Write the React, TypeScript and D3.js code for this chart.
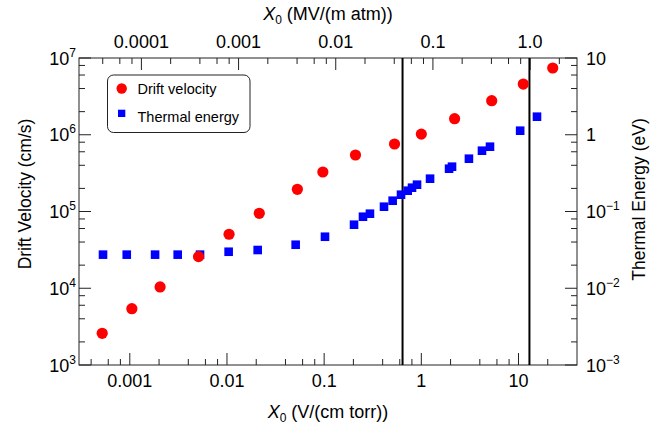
import React from "react";
import * as d3 from "d3";

// ---- data ----
const driftX = [0.00052, 0.00105, 0.00205, 0.0051, 0.0105, 0.0215, 0.053, 0.097, 0.21, 0.53, 1.0, 2.2, 5.3, 11.2, 22.5];
const driftV = [2590, 5420, 10400, 25800, 50500, 94700, 194600, 327000, 545000, 758000, 1020000, 1620000, 2780000, 4580000, 7410000];

const thermX = [0.00053, 0.00093, 0.00182, 0.00311, 0.00528, 0.0104, 0.0207, 0.0509, 0.102, 0.203, 0.251, 0.296, 0.413, 0.507, 0.618, 0.724, 0.802, 0.903, 1.23, 1.93, 2.07, 3.09, 4.21, 5.09, 10.4, 15.5];
const thermE = [0.0274, 0.0274, 0.0274, 0.0274, 0.0274, 0.0299, 0.0315, 0.0369, 0.0469, 0.0673, 0.0855, 0.0936, 0.1155, 0.1382, 0.1655, 0.1866, 0.2042, 0.2235, 0.2676, 0.361, 0.3835, 0.4875, 0.6198, 0.6986, 1.129, 1.719];

// vertical markers, in MV/(m atm) (top axis)
const markerTop = [0.0487, 0.985];

const conv = 0.076; // 1 V/(cm torr) = 0.076 MV/(m atm)

const bottomMajor = [0.001, 0.01, 0.1, 1, 10];
const bottomLabels = ["0.001", "0.01", "0.1", "1", "10"];
const topMajor = [0.0001, 0.001, 0.01, 0.1, 1];
const topLabels = ["0.0001", "0.001", "0.01", "0.1", "1.0"];
const leftMajor = [1e3, 1e4, 1e5, 1e6, 1e7];
const leftExp = ["3", "4", "5", "6", "7"];
const rightMajor = [1e-3, 1e-2, 1e-1, 1, 10];
const rightBase = ["10", "10", "10", "1", "10"];
const rightExp = ["\u22123", "\u22122", "\u22121", "", ""];
const minorMult = [2, 4, 6, 8];

const L = 79, R = 577, T = 58, B = 365;
const FONT = "'Liberation Sans', Arial, Helvetica, sans-serif";

function minorTicks(domain: [number, number]) {
  const out: number[] = [];
  const lo = Math.floor(Math.log10(domain[0]));
  const hi = Math.ceil(Math.log10(domain[1]));
  for (let e = lo; e <= hi; e++) {
    for (const m of minorMult) {
      const v = m * Math.pow(10, e);
      if (v > domain[0] * 1.001 && v < domain[1] * 0.999) out.push(v);
    }
  }
  return out;
}

export default function App() {
  const xDom: [number, number] = [3e-4, 40];
  const x = d3.scaleLog().domain(xDom).range([L, R]);
  const xTopDom: [number, number] = [xDom[0] * conv, xDom[1] * conv];
  const xTop = d3.scaleLog().domain(xTopDom).range([L, R]);
  const yL = d3.scaleLog().domain([1e3, 1e7]).range([B, T]);
  const yR = d3.scaleLog().domain([1e-3, 10]).range([B, T]);

  const MAJ = 12, MIN = 6;
  const stroke = "#222";

  return (
    <svg width={672} height={431} style={{ position: "absolute", left: 0, top: 0, background: "#fff" }} fontFamily={FONT}>
      {/* frame */}
      <rect x={L} y={T} width={R - L} height={B - T} fill="none" stroke={stroke} strokeWidth={1} />

      {/* bottom ticks */}
      {bottomMajor.map((v, i) => (
        <g key={"bm" + i}>
          <line x1={x(v)} x2={x(v)} y1={B} y2={B - MAJ} stroke={stroke} />
          <text x={x(v)} y={387} fontSize={18} textAnchor="middle" fill="#000">{bottomLabels[i]}</text>
        </g>
      ))}
      {minorTicks(xDom).map((v, i) => (
        <line key={"bn" + i} x1={x(v)} x2={x(v)} y1={B} y2={B - MIN} stroke={stroke} />
      ))}

      {/* top ticks */}
      {topMajor.map((v, i) => (
        <g key={"tm" + i}>
          <line x1={xTop(v)} x2={xTop(v)} y1={T} y2={T + MAJ} stroke={stroke} />
          <text x={xTop(v)} y={48} fontSize={18} textAnchor="middle" fill="#000">{topLabels[i]}</text>
        </g>
      ))}
      {minorTicks(xTopDom).map((v, i) => (
        <line key={"tn" + i} x1={xTop(v)} x2={xTop(v)} y1={T} y2={T + MIN} stroke={stroke} />
      ))}

      {/* left ticks */}
      {leftMajor.map((v, i) => (
        <g key={"lm" + i}>
          <line x1={L} x2={L + MAJ} y1={yL(v)} y2={yL(v)} stroke={stroke} />
          <text x={76} y={yL(v) + 6.5} fontSize={18} textAnchor="end" fill="#000">
            10<tspan dy={-8} fontSize={12}>{leftExp[i]}</tspan>
          </text>
        </g>
      ))}
      {minorTicks([1e3, 1e7]).map((v, i) => (
        <line key={"ln" + i} x1={L} x2={L + MIN} y1={yL(v)} y2={yL(v)} stroke={stroke} />
      ))}

      {/* right ticks */}
      {rightMajor.map((v, i) => (
        <g key={"rm" + i}>
          <line x1={R} x2={R - MAJ} y1={yR(v)} y2={yR(v)} stroke={stroke} />
          <text x={586} y={yR(v) + 6.5} fontSize={18} textAnchor="start" fill="#000">
            {rightBase[i]}
            {rightExp[i] ? <tspan dy={-8} fontSize={12}>{rightExp[i]}</tspan> : null}
          </text>
        </g>
      ))}
      {minorTicks([1e-3, 10]).map((v, i) => (
        <line key={"rn" + i} x1={R} x2={R - MIN} y1={yR(v)} y2={yR(v)} stroke={stroke} />
      ))}

      {/* vertical marker lines */}
      {markerTop.map((v, i) => (
        <line key={"mk" + i} x1={xTop(v)} x2={xTop(v)} y1={T} y2={B} stroke="#000" strokeWidth={2} />
      ))}

      {/* data */}
      {thermX.map((v, i) => (
        <rect key={"te" + i} x={x(v) - 4.3} y={yR(thermE[i]) - 4.3} width={8.6} height={8.6} fill="#0000ff" />
      ))}
      {driftX.map((v, i) => (
        <circle key={"dv" + i} cx={x(v)} cy={yL(driftV[i])} r={5.6} fill="#ff0000" />
      ))}

      {/* legend */}
      <rect x={107.5} y={75} width={142.5} height={57.5} rx={6} ry={6} fill="#fff" stroke={stroke} strokeWidth={1} />
      <circle cx={121.7} cy={88.5} r={5.2} fill="#ff0000" />
      <rect x={118} y={109.7} width={7.3} height={7.3} fill="#0000ff" />
      <text x={137.5} y={93.5} fontSize={14.5} fill="#000">Drift velocity</text>
      <text x={137.5} y={121.5} fontSize={14.5} fill="#000">Thermal energy</text>

      {/* axis titles */}
      <text x={328} y={20} fontSize={18} textAnchor="middle" fill="#000">
        <tspan fontStyle="italic">X</tspan>
        <tspan dy={4} fontSize={12}>0</tspan>
        <tspan dy={-4}> (MV/(m atm))</tspan>
      </text>
      <text x={328} y={418} fontSize={18} textAnchor="middle" fill="#000">
        <tspan fontStyle="italic">X</tspan>
        <tspan dy={4} fontSize={12}>0</tspan>
        <tspan dy={-4}> (V/(cm torr))</tspan>
      </text>
      <text transform={`translate(31,194) rotate(-90)`} fontSize={17.5} textAnchor="middle" fill="#000">
        Drift Velocity (cm/s)
      </text>
      <text transform={`translate(645,199.5) rotate(-90)`} fontSize={17.5} textAnchor="middle" fill="#000">
        Thermal Energy (eV)
      </text>
    </svg>
  );
}
